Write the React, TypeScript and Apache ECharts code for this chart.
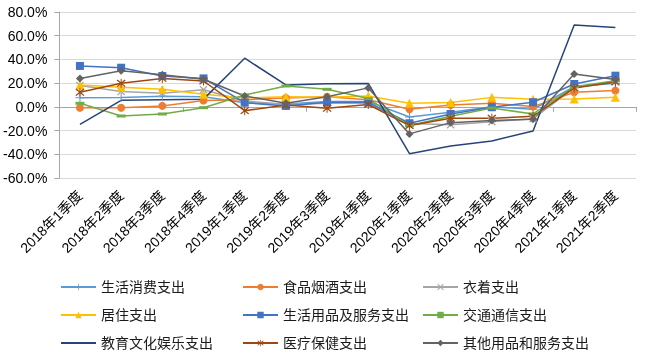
import React, { useEffect, useRef } from "react";
import * as echarts from "echarts";

const categories = [
  "2018年1季度", "2018年2季度", "2018年3季度", "2018年4季度",
  "2019年1季度", "2019年2季度", "2019年3季度", "2019年4季度",
  "2020年1季度", "2020年2季度", "2020年3季度", "2020年4季度",
  "2021年1季度", "2021年2季度",
];

const seriesNames = [
  "生活消费支出", "食品烟酒支出", "衣着支出",
  "居住支出", "生活用品及服务支出", "交通通信支出",
  "教育文化娱乐支出", "医疗保健支出", "其他用品和服务支出",
];

const livingSpend = [7.6, 7.8, 9.0, 8.5, 3.5, 2.5, 4.5, 4.5, -8.5, -4.5, 0.0, -2.0, 17.0, 20.0];
const foodSpend = [-0.7, -0.7, 0.8, 5.3, 6.0, 7.5, 8.5, 6.0, -2.0, 1.5, 3.0, 0.2, 12.3, 13.7];
const clothingSpend = [18.0, 13.0, 11.5, 14.5, 5.0, 2.0, 3.0, 3.0, -14.0, -15.0, -12.5, -10.0, 16.0, 22.0];
const housingSpend = [18.5, 16.5, 14.8, 10.6, 7.5, 8.6, 8.0, 9.2, 3.0, 3.6, 8.0, 6.5, 6.7, 8.0];
const goodsSpend = [34.5, 33.0, 26.0, 24.0, 3.5, 0.8, 3.9, 3.8, -13.8, -6.0, -0.3, 3.9, 19.3, 26.3];
const transportSpend = [3.0, -7.7, -6.0, -0.7, 10.0, 17.6, 14.8, 7.0, -15.8, -8.0, -1.0, -6.0, 17.0, 22.0];
const educationSpend = [-14.7, 5.5, 6.0, 6.5, 41.0, 18.5, 19.5, 19.8, -39.5, -33.0, -28.8, -20.3, 69.0, 67.0];
const medicalSpend = [12.3, 19.9, 24.0, 21.8, -3.2, 1.5, -1.2, 2.0, -15.8, -9.6, -9.6, -8.0, 16.0, 21.0];
const otherSpend = [24.0, 30.5, 27.0, 23.3, 9.2, 3.0, 8.5, 16.0, -22.8, -13.3, -11.6, -10.5, 27.7, 23.0];

const yTicks = [-60, -40, -20, 0, 20, 40, 60, 80];

const colors = ["#5B9BD5", "#ED7D31", "#A5A5A5", "#FFC000", "#4472C4", "#70AD47", "#264478", "#9E480E", "#636363"];

const PLUS = "path://M4,0H5V4H9V5H5V9H4V5H0V4H4Z";
const CROSS = "path://M0,1L1,0L4.5,3.5L8,0L9,1L5.5,4.5L9,8L8,9L4.5,5.5L1,9L0,8L3.5,4.5Z";
const STAR = "path://M0,1L1,0L4.5,3.5L8,0L9,1L5.5,4.5L9,8L8,9L4.5,5.5L1,9L0,8L3.5,4.5Z M4,-1H5V10H4Z";
const DASH = "path://M0,0H10V2H0Z";

const seriesData = [livingSpend, foodSpend, clothingSpend, housingSpend, goodsSpend, transportSpend, educationSpend, medicalSpend, otherSpend];
const symbols: any[] = [PLUS, "circle", CROSS, "triangle", "rect", DASH, "circle", STAR, "diamond"];
const symbolSizes: any[] = [9, 8, 8, 9, 8, [9, 3], 1, 9, 8];
const symbolVisible = [true, true, true, true, true, true, false, true, true];

const FONT = '"Liberation Sans", Arial, "Noto Sans CJK SC", sans-serif';

export default function App() {
  const ref = useRef<HTMLDivElement>(null);
  useEffect(() => {
    const chart = echarts.init(ref.current!, null, { renderer: "svg" });
    const legendCommon = {
      orient: "vertical",
      top: 275,
      itemWidth: 35,
      itemHeight: 8,
      itemGap: 14,
      textStyle: { fontSize: 14, lineHeight: 14, color: "#1a1a1a", fontFamily: FONT },
    };
    chart.setOption({
      animation: false,
      color: colors,
      textStyle: { fontFamily: FONT },
      grid: { left: 57, right: 14, top: 12, bottom: 183, containLabel: false },
      legend: [
        { ...legendCommon, left: 55, data: [seriesNames[0], seriesNames[3], seriesNames[6]] },
        { ...legendCommon, left: 237, data: [seriesNames[1], seriesNames[4], seriesNames[7]] },
        { ...legendCommon, left: 417, data: [seriesNames[2], seriesNames[5], seriesNames[8]] },
      ],
      xAxis: [
        {
          type: "category",
          data: categories,
          boundaryGap: true,
          axisLine: { show: true, onZero: true, lineStyle: { color: "#A6A6A6", width: 1 } },
          axisTick: { show: true, length: 5, lineStyle: { color: "#A6A6A6" } },
          axisLabel: { show: false },
          splitLine: { show: false },
        },
        {
          type: "category",
          data: categories,
          position: "bottom",
          boundaryGap: true,
          axisLine: { show: false, onZero: false },
          axisTick: { show: false },
          axisLabel: { show: true, interval: 0, rotate: 45, fontSize: 14, color: "#000", margin: 15, fontFamily: FONT },
          splitLine: { show: false },
        },
      ],
      yAxis: {
        type: "value",
        min: yTicks[0],
        max: yTicks[yTicks.length - 1],
        interval: 20,
        axisLine: { show: true, lineStyle: { color: "#A6A6A6" } },
        axisTick: { show: true, length: 5, lineStyle: { color: "#A6A6A6" } },
        axisLabel: { fontSize: 14, color: "#000", margin: 12, formatter: (v: number) => v.toFixed(1) + "%" },
        splitLine: { lineStyle: { color: "#D9D9D9" } },
      },
      series: seriesNames.map((name, i) => ({
        name,
        type: "line",
        xAxisIndex: 0,
        data: seriesData[i],
        symbol: symbols[i],
        symbolSize: symbolSizes[i],
        showSymbol: symbolVisible[i],
        lineStyle: { width: 1.5, color: colors[i] },
        itemStyle: { color: colors[i], opacity: symbolVisible[i] ? 1 : 0 },
      })),
    });
    return () => chart.dispose();
  }, []);
  return <div ref={ref} style={{ position: "fixed", left: 0, top: 0, width: 650, height: 361 }} />;
}
